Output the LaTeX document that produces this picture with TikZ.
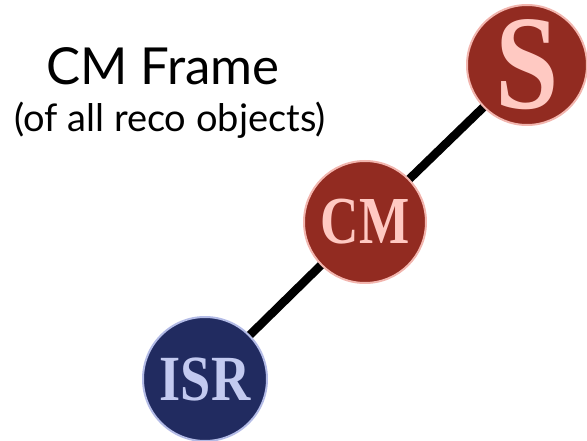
\documentclass[tikz,border=0pt]{standalone}
\usepackage{fontspec}
\usepackage{graphicx}
\usetikzlibrary{backgrounds}
\setmainfont{Lato}
\newfontfamily\circfont{Liberation Serif}
\definecolor{redfill}{HTML}{922B21}
\definecolor{redrim}{HTML}{F2B5AE}
\definecolor{redtext}{HTML}{FFC9C2}
\definecolor{bluefill}{HTML}{212B60}
\definecolor{bluerim}{HTML}{B3BBE6}
\definecolor{bluetext}{HTML}{C3CAF0}
\tikzset{
  redball/.style={circle, minimum size=120pt, inner sep=0pt, fill=redfill, draw=redrim, line width=2pt, text=redtext},
  blueball/.style={circle, minimum size=124pt, inner sep=0pt, fill=bluefill, draw=bluerim, line width=2pt, text=bluetext},
  link/.style={line width=8.5pt, black}
}
\begin{document}
\begin{tikzpicture}[x=1pt,y=-1pt]
\useasboundingbox (0,0) rectangle (587,441);
\node[redball, font=\circfont\bfseries\fontsize{120}{120}\selectfont] (S) at (527,65) {\scalebox{0.95}[1.12]{S}};
\node[redball, minimum size=122pt, font=\circfont\bfseries\fontsize{56}{56}\selectfont] (CM) at (365,222) {\scalebox{0.95}[1.2]{CM}};
\node[blueball, font=\circfont\bfseries\fontsize{56}{56}\selectfont] (ISR) at (205,379) {\scalebox{0.97}[1.15]{ISR}};
\begin{scope}[on background layer]
\draw[link] (ISR.center) -- (CM.center);
\draw[link] (CM.center) -- (S.center);
\end{scope}
\node[font=\fontsize{51}{51}\selectfont, anchor=base] (title) at (163,85) {CM Frame};
\node[font=\fontsize{38}{38}\selectfont, anchor=base] (sub) at (170,132) {(of all reco objects)};
\end{tikzpicture}
\end{document}
